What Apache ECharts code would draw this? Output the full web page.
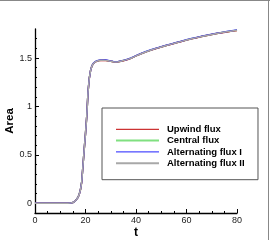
<!DOCTYPE html>
<html>
<head>
<meta charset="utf-8">
<script src="https://cdn.jsdelivr.net/npm/echarts@6/dist/echarts.min.js"></script>
<style>
html,body{margin:0;padding:0;background:#fff;}
#chart{width:270px;height:240px;}
</style>
</head>
<body>
<div id="chart"></div>
<script>
// time samples (t)
const tValues = [0,5,10,13,14,15,16,17,17.5,18,18.5,19,19.5,20,20.5,21,21.5,22,22.5,23,24,25,26,27,28,29,30,31,32,33,34,35,36,37,38,39,40,42,44,46,48,50,52,54,56,58,60,62,64,66,68,70,72,74,76,78,80];
// Area values, one list per flux
const upwindArea = [0,0,0,0,0.002,0.008,0.025,0.06,0.09,0.14,0.22,0.39,0.56,0.72,0.9,1.15,1.29,1.37,1.415,1.44,1.462,1.471,1.476,1.477,1.475,1.471,1.466,1.461,1.459,1.461,1.466,1.473,1.48,1.488,1.497,1.509,1.522,1.544,1.564,1.582,1.599,1.614,1.629,1.643,1.657,1.671,1.685,1.698,1.71,1.722,1.733,1.743,1.753,1.762,1.77,1.778,1.785];
const centralArea = [0,0,0,0,0.002,0.008,0.026,0.061,0.092,0.142,0.223,0.392,0.562,0.722,0.902,1.152,1.292,1.372,1.416,1.441,1.463,1.472,1.477,1.478,1.476,1.472,1.467,1.462,1.46,1.462,1.467,1.474,1.481,1.489,1.498,1.51,1.523,1.545,1.565,1.583,1.6,1.615,1.63,1.644,1.658,1.672,1.686,1.699,1.711,1.723,1.734,1.744,1.754,1.763,1.771,1.779,1.787];
const altFlux1Area = [0,0,0,0,0.002,0.008,0.025,0.06,0.091,0.141,0.221,0.39,0.561,0.721,0.901,1.151,1.291,1.371,1.417,1.443,1.466,1.475,1.48,1.481,1.479,1.474,1.469,1.465,1.462,1.465,1.469,1.476,1.483,1.491,1.5,1.512,1.525,1.547,1.567,1.585,1.602,1.617,1.632,1.646,1.66,1.674,1.688,1.701,1.713,1.725,1.736,1.746,1.756,1.765,1.773,1.781,1.789];
const altFlux2Area = [0,0,0,0,0.002,0.008,0.025,0.06,0.09,0.14,0.22,0.39,0.56,0.72,0.9,1.15,1.29,1.37,1.415,1.44,1.463,1.472,1.477,1.478,1.476,1.472,1.467,1.462,1.46,1.462,1.467,1.474,1.481,1.489,1.498,1.51,1.523,1.545,1.565,1.583,1.6,1.615,1.63,1.644,1.658,1.672,1.686,1.699,1.711,1.723,1.734,1.744,1.754,1.763,1.771,1.779,1.786];
// axis ticks
const yMajorTicks = [0, 0.5, 1, 1.5];
const yMinorTicks = [0.1,0.2,0.3,0.4,0.6,0.7,0.8,0.9,1.1,1.2,1.3,1.4,1.6,1.7];
const seriesNames = ['Upwind flux','Central flux','Alternating flux I','Alternating flux II'];
const seriesColors = ['#c00000','#80e080','#2020ff','#a8a8a8'];
const seriesWidths = [1,2,1,2];

function pairs(ys){ return tValues.map((t,i)=>[t, ys[i]]); }

const chart = echarts.init(document.getElementById('chart'), null, {renderer:'canvas'});
const lbl = {fontFamily:'Liberation Sans', fontSize:9, color:'#222'};
function mkSeries(i, ys, w){
  return {name:seriesNames[i], type:'line', data:pairs(ys), symbol:'none',
    lineStyle:{color:seriesColors[i], width:w}, itemStyle:{color:seriesColors[i]}};
}
chart.setOption({
  animation:false,
  backgroundColor:'#fff',
  grid:{left:35, top:29, width:202, height:184, containLabel:false, outerBoundsMode:'none'},
  xAxis:{
    type:'value', min:0, max:80, interval:20,
    name:'t', nameLocation:'middle', nameGap:14, nameMoveOverlap:false,
    nameTextStyle:{fontFamily:'Liberation Sans', fontWeight:'bold', fontSize:12, color:'#000'},
    axisLine:{onZero:false, lineStyle:{color:'#000', width:1.3}},
    axisTick:{inside:true, length:4, lineStyle:{color:'#000'}},
    minorTick:{show:true, splitNumber:4, length:2, lineStyle:{color:'#000'}},
    splitLine:{show:false},
    axisLabel:Object.assign({margin:3}, lbl)
  },
  yAxis:[{
    type:'value', min:-0.1, max:1.8, interval:0.1, position:'left',
    name:'Area', nameLocation:'middle', nameGap:19, nameMoveOverlap:false,
    nameTextStyle:{fontFamily:'Liberation Sans', fontWeight:'bold', fontSize:11.5, color:'#000'},
    axisLine:{show:true, onZero:false, lineStyle:{color:'#000', width:1.3}},
    axisTick:{show:true, inside:true, length:4, customValues:yMajorTicks, lineStyle:{color:'#000'}},
    splitLine:{show:false},
    axisLabel:Object.assign({margin:3, customValues:yMajorTicks, formatter:v=>String(v)}, lbl)
  },{
    type:'value', min:-0.1, max:1.8, interval:0.1, position:'left', offset:0,
    axisLine:{show:false},
    axisTick:{show:true, inside:true, length:2, customValues:yMinorTicks, lineStyle:{color:'#000'}},
    axisLabel:{show:false},
    splitLine:{show:false}
  }],
  legend:{
    data:seriesNames.map((n,i)=>({name:n, lineStyle:{color:seriesColors[i], width:seriesWidths[i]}})),
    orient:'vertical', left:102, top:108,
    padding:[15.8, 13.4, 11, 13],
    itemWidth:43, itemHeight:11, itemGap:0.3,
    borderColor:'#555', borderWidth:1,
    itemStyle:{color:'rgba(0,0,0,0)', borderColor:'rgba(0,0,0,0)', borderWidth:0},
    textStyle:{fontFamily:'Liberation Sans', fontWeight:'bold', fontSize:9.5, color:'#000', lineHeight:11, padding:[0,0,0,3]},
    selectedMode:false
  },
  graphic:[
    {type:'line', shape:{x1:0,y1:0.5,x2:270,y2:0.5}, style:{stroke:'#888', lineWidth:1}},
    {type:'line', shape:{x1:268.5,y1:0,x2:268.5,y2:240}, style:{stroke:'#888', lineWidth:1}}
  ],
  series:[
    mkSeries(1, centralArea, 1.5),
    mkSeries(0, upwindArea, 1.5),
    mkSeries(2, altFlux1Area, 1.5),
    mkSeries(3, altFlux2Area, 1.5)
  ]
});
</script>
</body>
</html>
